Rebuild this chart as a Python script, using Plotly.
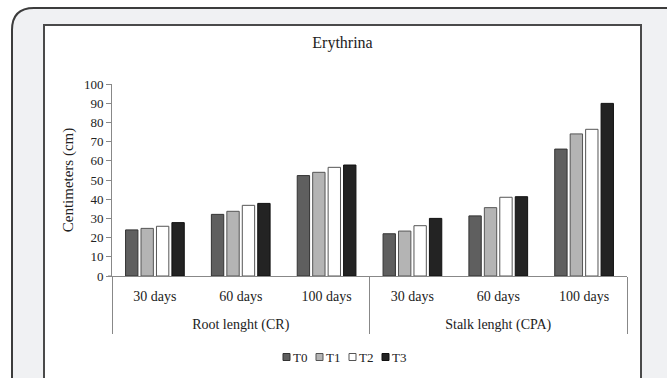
import plotly.graph_objects as go

# Sampling times and measured traits
days = ["30 days", "60 days", "100 days"]
traits = ["Root lenght (CR)", "Stalk lenght (CPA)"]
series = ["T0", "T1", "T2", "T3"]

# Mean length (cm) per treatment, ordered Root 30/60/100 then Stalk 30/60/100
t0 = [24.0, 32.1, 52.3, 22.0, 31.3, 66.1]
t1 = [24.8, 33.7, 54.0, 23.4, 35.6, 74.0]
t2 = [25.9, 36.8, 56.6, 26.2, 41.0, 76.4]
t3 = [27.8, 37.8, 57.8, 30.0, 41.3, 89.9]
values = [t0, t1, t2, t3]

y_ticks = list(range(0, 101, 10))

fill_colors = ["#5f5f5f", "#b4b4b4", "#ffffff", "#232323"]
edge_colors = ["#333333", "#555555", "#555555", "#111111"]

W, H = 667, 378
L, R, T, B = 112, 627, 84, 276
FONT = "Liberation Serif"
INK = "#222222"
AXIS = "#888888"


def px(x):
    return (x - L) / (R - L)


def py(y):
    return (B - y) / (B - T)


# second-level labels sit one blank line lower than the day labels
x_cats = [["<br>" + t for t in traits for _ in days], days * len(traits)]

fig = go.Figure()
for name, vals, fc, ec in zip(series, values, fill_colors, edge_colors):
    fig.add_trace(go.Bar(
        x=x_cats, y=vals, name=name,
        marker=dict(color=fc, line=dict(color=ec, width=1)),
        showlegend=False,
    ))

shapes = [
    # rounded outer panel
    dict(type="path", xref="paper", yref="paper", layer="below",
         path=(f"M {px(12)},{py(420)} L {px(12)},{py(30)} "
               f"Q {px(12)},{py(8)} {px(34)},{py(8)} "
               f"L {px(720)},{py(8)} L {px(720)},{py(420)} Z"),
         fillcolor="#f0f1f3", line=dict(color="#3c3c3c", width=2)),
    # white chart box
    dict(type="rect", xref="paper", yref="paper", layer="below",
         x0=px(44), x1=px(641), y0=py(420), y1=py(25),
         fillcolor="#ffffff", line=dict(color="#4a4a4a", width=2)),
    # short stub of the category axis to the left of the value axis
    dict(type="line", xref="paper", yref="paper",
         x0=px(108), x1=px(112), y0=0, y1=0,
         line=dict(color=AXIS, width=1)),
]

# compact legend row below the chart
annotations = []
leg_x0, leg_step, leg_y, sq = 283, 33, 357, 7
for i, (name, fc, ec) in enumerate(zip(series, fill_colors, edge_colors)):
    x0 = leg_x0 + i * leg_step
    shapes.append(dict(type="rect", xref="paper", yref="paper",
                       x0=px(x0), x1=px(x0 + sq),
                       y0=py(leg_y + sq / 2), y1=py(leg_y - sq / 2),
                       fillcolor=fc, line=dict(color=ec, width=1)))
    annotations.append(dict(xref="paper", yref="paper", x=px(x0 + sq + 1),
                            y=py(leg_y), text=name, showarrow=False,
                            xanchor="left", yanchor="middle",
                            font=dict(family=FONT, size=13, color=INK)))

fig.update_layout(
    width=W, height=H,
    margin=dict(l=L, r=W - R, t=T, b=H - B, pad=0),
    paper_bgcolor="#ffffff",
    plot_bgcolor="rgba(0,0,0,0)",
    barmode="group", bargap=0.28, bargroupgap=0.2,
    title=dict(text="Erythrina", xref="paper", x=px(342.5),
               yref="container", y=1 - 42 / H, xanchor="center",
               yanchor="middle",
               font=dict(family=FONT, size=16, color=INK)),
    font=dict(family=FONT, size=13, color=INK),
    shapes=shapes,
    annotations=annotations,
    showlegend=False,
)

fig.update_yaxes(
    range=[0, 100], tickvals=y_ticks, ticks="outside", ticklen=5,
    tickcolor=AXIS, showline=True, linecolor=AXIS, linewidth=1,
    showgrid=False, zeroline=False,
    tickfont=dict(family=FONT, size=13, color=INK),
    title=dict(text="Centimeters (cm)", standoff=6,
               font=dict(family=FONT, size=15, color=INK)),
)
fig.update_xaxes(
    type="multicategory", showline=True, linecolor=AXIS, linewidth=1,
    showgrid=False, ticks="", ticklabelstandoff=7,
    showdividers=True, dividercolor=AXIS, dividerwidth=1,
    tickfont=dict(family=FONT, size=14, color=INK),
)

fig.write_html("out.html")
